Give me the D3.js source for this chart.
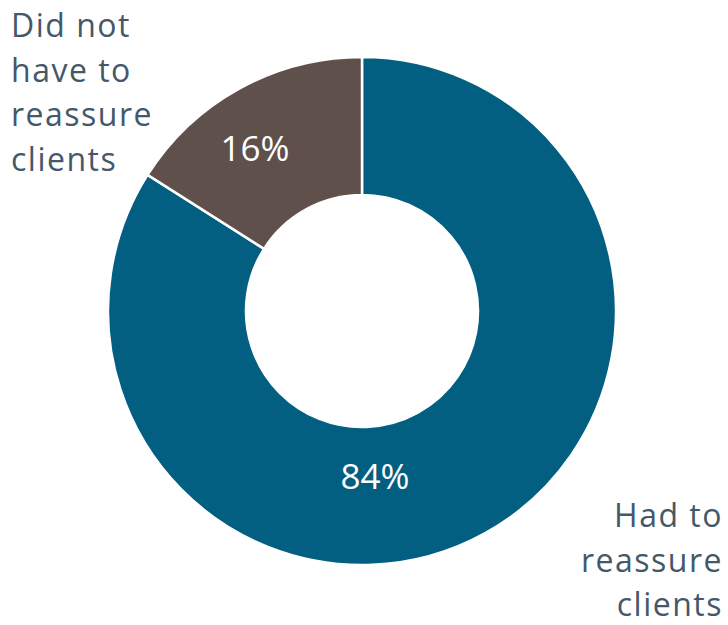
<!DOCTYPE html>
<html>
<head>
<meta charset="utf-8">
<script src="https://cdn.jsdelivr.net/npm/d3@7/dist/d3.min.js"></script>
<style>
  html, body { margin: 0; padding: 0; background: #fff; }
  svg { display: block; }
  text { font-family: "Open Sans", "Noto Sans", sans-serif; }
</style>
</head>
<body>
<svg id="chart" width="728" height="625"></svg>
<script>
// Survey responses
const categories = ["Had to reassure clients", "Did not have to reassure clients"];
const values = [84, 16];
const sliceColors = ["#035f82", "#5f504c"];

const width = 728, height = 625;
const cx = 362, cy = 311;
const outerR = 254, innerR = 116;

const svg = d3.select("#chart");
const g = svg.append("g").attr("transform", `translate(${cx},${cy})`);

const pie = d3.pie().sort(null).value(d => d.value)
  .startAngle(0).endAngle(2 * Math.PI);
const data = categories.map((c, i) => ({ name: c, value: values[i], color: sliceColors[i] }));
const arcs = pie(data);

const arc = d3.arc().innerRadius(innerR).outerRadius(outerR);

g.selectAll("path.slice")
  .data(arcs)
  .join("path")
  .attr("class", "slice")
  .attr("d", arc)
  .attr("fill", d => d.data.color)
  .attr("stroke", "#fff")
  .attr("stroke-width", 2.5);

// Value labels: placed along each slice at a chosen angle/radius
const valuePlacement = [
  { angle: 175.5, radius: 166 },
  { angle: -33.5, radius: 194 }
];
g.selectAll("text.value")
  .data(arcs)
  .join("text")
  .attr("class", "value")
  .attr("x", (d, i) => valuePlacement[i].radius * Math.sin(valuePlacement[i].angle * Math.PI / 180))
  .attr("y", (d, i) => -valuePlacement[i].radius * Math.cos(valuePlacement[i].angle * Math.PI / 180))
  .attr("dy", "0.35em")
  .attr("text-anchor", "middle")
  .attr("fill", "#fff")
  .attr("font-size", 35)
  .text(d => d.data.value + "%");

// Category labels
const labelColor = "#44586a";
const rightLines = ["Had to", "reassure", "clients"];
const leftLines = ["Did not", "have to", "reassure", "clients"];
const lineGap = 44.5;

svg.append("text")
  .attr("text-anchor", "end")
  .attr("fill", labelColor)
  .attr("font-size", 32)
  .attr("letter-spacing", 1.5)
  .selectAll("tspan")
  .data(rightLines)
  .join("tspan")
  .attr("x", 723)
  .attr("y", (d, i) => 527 + i * lineGap)
  .text(d => d);

svg.append("text")
  .attr("text-anchor", "start")
  .attr("fill", labelColor)
  .attr("font-size", 32)
  .attr("letter-spacing", 1.5)
  .selectAll("tspan")
  .data(leftLines)
  .join("tspan")
  .attr("x", 11)
  .attr("y", (d, i) => 37 + i * lineGap)
  .text(d => d);
</script>
</body>
</html>
